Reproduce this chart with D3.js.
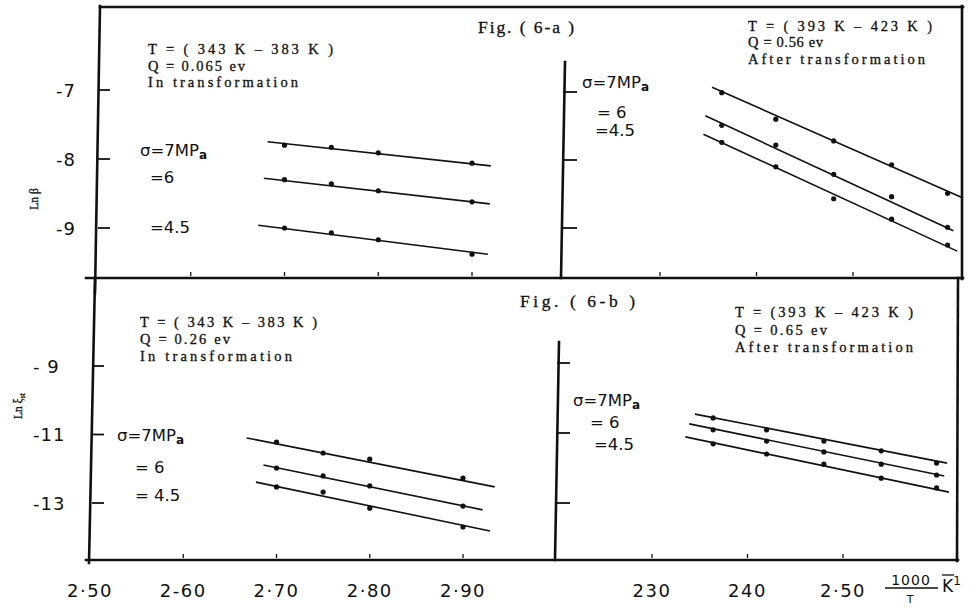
<!DOCTYPE html>
<html>
<head>
<meta charset="utf-8">
<script src="https://cdn.jsdelivr.net/npm/d3@7"></script>
<style>
  html, body { margin: 0; padding: 0; background: #fff; }
  svg { display: block; }
  .serif { font-family: "Liberation Serif", "DejaVu Serif", serif; fill: #111; stroke: #111; stroke-width: 0.3; }
  .sans { font-family: "DejaVu Sans", "Liberation Sans", sans-serif; fill: #111; }
</style>
</head>
<body>
<svg id="chart" width="972" height="613"></svg>
<script>
// ---------------- DATA ----------------
const sigmaLabels = ["7", "6", "4.5"];

// x positions (1000/T, K^-1) of the measured points
const xIn = [2.70, 2.75, 2.80, 2.90];                 // 343 K - 383 K (in transformation)
const xAfter = [2.364, 2.420, 2.480, 2.540, 2.598];   // 393 K - 423 K (after transformation)

// Fig. 6-a : ln beta
const lnBetaIn = [
  [-7.80, -7.83, -7.91, -8.06],
  [-8.30, -8.36, -8.46, -8.62],
  [-9.00, -9.07, -9.17, -9.38]
];
const lnBetaAfter = [
  [-7.01, -7.40, -7.72, -8.07, -8.49],
  [-7.49, -7.78, -8.21, -8.54, -8.99],
  [-7.74, -8.10, -8.57, -8.87, -9.25]
];
// fitted straight lines: [x start, x end] and [y start, y end]
const fitBetaInX = [[2.682, 2.920], [2.678, 2.919], [2.672, 2.917]];
const fitBetaInY = [[-7.75, -8.10], [-8.28, -8.65], [-8.96, -9.38]];
const fitBetaAfterX = [[2.354, 2.614], [2.347, 2.604], [2.345, 2.608]];
const fitBetaAfterY = [[-6.93, -8.56], [-7.35, -9.04], [-7.62, -9.34]];

// Fig. 6-b : ln xi_st
const lnXiIn = [
  [-11.22, -11.54, -11.72, -12.27],
  [-11.98, -12.21, -12.50, -13.09],
  [-12.53, -12.68, -13.15, -13.70]
];
const lnXiAfter = [
  [-10.57, -10.91, -11.23, -11.51, -11.86],
  [-10.91, -11.23, -11.54, -11.89, -12.20],
  [-11.31, -11.60, -11.89, -12.29, -12.57]
];
const fitXiInX = [[2.668, 2.934], [2.686, 2.921], [2.678, 2.929]];
const fitXiInY = [[-11.10, -12.53], [-11.89, -13.20], [-12.39, -13.82]];
const fitXiAfterX = [[2.345, 2.609], [2.339, 2.606], [2.335, 2.611]];
const fitXiAfterY = [[-10.46, -11.86], [-10.74, -12.23], [-11.11, -12.69]];

// tick values and labels
const xTicksIn = [2.50, 2.60, 2.70, 2.80, 2.90];
const xTickLabelsIn = ["2·50", "2-60", "2·70", "2·80", "2·90"];
const xTicksAfter = [2.30, 2.40, 2.50];
const xTickLabelsAfter = ["230", "240", "2·50"];
const yTicksBeta = [-7, -8, -9];
const yTickLabelsBeta = ["-7", "-8", "-9"];
const yTicksXi = [-9, -11, -13];
const yTickLabelsXi = ["- 9", "-11", "-13"];

const noteBetaIn = ["T  = ( 343 K – 383 K )", "Q  =  0.065 ev", "In transformation"];
const noteBetaAfter = ["T = ( 393 K – 423 K )", "Q  = 0.56 ev", "After transformation"];
const noteXiIn = ["T = ( 343 K – 383 K )", "Q = 0.26 ev", "In transformation"];
const noteXiAfter = ["T = (393 K – 423 K )", "Q = 0.65 ev", "After transformation"];

// ---------------- DRAWING ----------------
const svg = d3.select("#chart");
svg.append("rect").attr("width", 972).attr("height", 613).attr("fill", "#fff");
const ink = "#111";

// scales for the four panels
const xTL = d3.scaleLinear().domain([2.50, 2.90]).range([97, 472]);
const yTL = d3.scaleLinear().domain([-7, -9]).range([90, 228]);
const xTR = d3.scaleLinear().domain([2.30, 2.50]).range([660, 853]);
const yTR = d3.scaleLinear().domain([-7, -9]).range([92, 228]);
const xBL = d3.scaleLinear().domain([2.50, 2.90]).range([90, 463]);
const yBL = d3.scaleLinear().domain([-9, -13]).range([366, 503]);
const xBR = d3.scaleLinear().domain([2.30, 2.50]).range([652, 843]);
const yBR = d3.scaleLinear().domain([-9, -13]).range([363, 503]);

// frame lines
const frame = [
  [100, 7, 963, 7],
  [962, 6, 962, 279],
  [958, 278, 957, 561],
  [86, 278, 963, 278],
  [86, 560, 958, 560],
  [100, 6, 95, 293],
  [95, 278, 89, 563],
  [565, 62, 561, 278],
  [559, 342, 555, 560]
];
svg.append("g").selectAll("line").data(frame).join("line")
  .attr("x1", d => d[0]).attr("y1", d => d[1])
  .attr("x2", d => d[2]).attr("y2", d => d[3])
  .attr("stroke", ink).attr("stroke-width", 2.6).attr("stroke-linecap", "square");

function panel(o) {
  const g = svg.append("g");
  // y ticks (inner marks)
  g.selectAll(".yt").data(o.yTicks).join("line")
    .attr("x1", o.axisX).attr("x2", o.axisX + o.tickLen)
    .attr("y1", d => o.y(d)).attr("y2", d => o.y(d))
    .attr("stroke", ink).attr("stroke-width", 1.8);
  // x ticks (small marks above bottom axis)
  g.selectAll(".xt").data(o.xTicks.filter(v => o.x(v) > o.axisX + 20)).join("line")
    .attr("x1", d => o.x(d)).attr("x2", d => o.x(d))
    .attr("y1", o.bottom - 6).attr("y2", o.bottom - 2)
    .attr("stroke", ink).attr("stroke-width", 1.3);
  // y tick labels
  if (o.yLabels) {
    g.selectAll(".yl").data(o.yTicks).join("text")
      .attr("class", "sans")
      .attr("x", o.yLabelX).attr("y", d => o.y(d) + 6.5)
      .attr("font-size", 18)
      .attr("letter-spacing", 1)
      .text((d, i) => o.yLabels[i]);
  }
  // x tick labels
  if (o.xLabels) {
    g.selectAll(".xl").data(o.xTicks).join("text")
      .attr("class", "sans")
      .attr("x", d => o.x(d)).attr("y", 597)
      .attr("text-anchor", "middle")
      .attr("font-size", 18)
      .attr("letter-spacing", 1.5)
      .text((d, i) => o.xLabels[i]);
  }
  // fitted lines
  const line = d3.line().x(d => o.x(d[0])).y(d => o.y(d[1]));
  g.selectAll(".fit").data(o.fitX.map((fx, i) => [[fx[0], o.fitY[i][0]], [fx[1], o.fitY[i][1]]]))
    .join("path")
    .attr("d", line)
    .attr("fill", "none").attr("stroke", ink).attr("stroke-width", 1.6);
  // points
  o.vals.forEach(series => {
    g.selectAll(null).data(series.map((v, j) => [o.xs[j], v])).join("circle")
      .attr("cx", d => o.x(d[0])).attr("cy", d => o.y(d[1]))
      .attr("r", 2.6).attr("fill", ink);
  });
  // annotation
  g.selectAll(".note").data(o.note).join("text")
    .attr("class", "serif")
    .attr("x", o.noteX).attr("y", (d, i) => o.noteY[i])
    .attr("font-size", 14.5)
    .attr("textLength", (d, i) => o.noteW[i])
    .attr("lengthAdjust", "spacing")
    .text(d => d);
  // sigma labels
  o.sig.forEach((s, i) => {
    const t = g.append("text").attr("class", "sans")
      .attr("x", s[0]).attr("y", s[1]).attr("font-size", 16.5);
    if (i === 0) {
      t.append("tspan").text("σ=" + sigmaLabels[0] + "MP");
      t.append("tspan").attr("dx", 0).attr("dy", 3).attr("font-size", 12).attr("font-weight", "bold").text("a");
    } else {
      t.text(s[2] + sigmaLabels[i]);
    }
  });
}

panel({
  x: xTL, y: yTL, axisX: 98, tickLen: 12, bottom: 278,
  xTicks: xTicksIn, yTicks: yTicksBeta, yLabels: yTickLabelsBeta, yLabelX: 56,
  xs: xIn, vals: lnBetaIn, fitX: fitBetaInX, fitY: fitBetaInY,
  note: noteBetaIn, noteX: 148, noteY: [54, 71, 87], noteW: [185, 97, 150],
  sig: [[140, 156, ""], [150, 183, "="], [150, 233, "="]]
});
panel({
  x: xTR, y: yTR, axisX: 563, tickLen: 14, bottom: 278,
  xTicks: xTicksAfter, yTicks: yTicksBeta,
  xs: xAfter, vals: lnBetaAfter, fitX: fitBetaAfterX, fitY: fitBetaAfterY,
  note: noteBetaAfter, noteX: 748, noteY: [31, 47, 64], noteW: [184, 75, 177],
  sig: [[582, 88, ""], [597, 118, "= "], [595, 136, "="]]
});
panel({
  x: xBL, y: yBL, axisX: 92, tickLen: 12, bottom: 560,
  xTicks: xTicksIn, yTicks: yTicksXi, yLabels: yTickLabelsXi, yLabelX: 33,
  xLabels: xTickLabelsIn,
  xs: xIn, vals: lnXiIn, fitX: fitXiInX, fitY: fitXiInY,
  note: noteXiIn, noteX: 140, noteY: [327, 344, 361], noteW: [177, 90, 152],
  sig: [[117, 441, ""], [135, 473, "= "], [135, 501, "= "]]
});
panel({
  x: xBR, y: yBR, axisX: 557, tickLen: 13, bottom: 560,
  xTicks: xTicksAfter, yTicks: yTicksXi,
  xLabels: xTickLabelsAfter,
  xs: xAfter, vals: lnXiAfter, fitX: fitXiAfterX, fitY: fitXiAfterY,
  note: noteXiAfter, noteX: 735, noteY: [317, 335, 352], noteW: [178, 92, 178],
  sig: [[573, 406, ""], [590, 428, "= "], [594, 450, "="]]
});

// figure titles
svg.append("text").attr("class", "serif").attr("x", 478).attr("y", 33)
  .attr("font-size", 17.5).attr("textLength", 96).attr("lengthAdjust", "spacing")
  .text("Fig. ( 6-a )");
svg.append("text").attr("class", "serif").attr("x", 520).attr("y", 307)
  .attr("font-size", 17.5).attr("textLength", 115).attr("lengthAdjust", "spacing")
  .text("Fig. ( 6-b )");

// y-axis titles
svg.append("text").attr("class", "serif")
  .attr("transform", "translate(38,199) rotate(-90)")
  .attr("text-anchor", "middle").attr("font-size", 11.5)
  .text("Ln β");
const xiTitle = svg.append("text").attr("class", "serif")
  .attr("transform", "translate(22,406) rotate(-90)")
  .attr("text-anchor", "middle").attr("font-size", 11.5);
xiTitle.append("tspan").text("Ln ξ");
xiTitle.append("tspan").attr("dy", 3).attr("font-size", 8).text("st");

// x-axis unit: 1000/T  K^-1
const unit = svg.append("g");
unit.append("text").attr("class", "sans").attr("x", 911).attr("y", 585)
  .attr("text-anchor", "middle").attr("font-size", 14).attr("letter-spacing", 1).text("1000");
unit.append("line").attr("x1", 885).attr("x2", 938).attr("y1", 588).attr("y2", 588)
  .attr("stroke", ink).attr("stroke-width", 1.4);
unit.append("text").attr("class", "sans").attr("x", 910).attr("y", 603)
  .attr("text-anchor", "middle").attr("font-size", 11).text("T");
const kt = unit.append("text").attr("class", "sans").attr("x", 942).attr("y", 592).attr("font-size", 17);
kt.append("tspan").text("K");
kt.append("tspan").attr("dy", -7).attr("font-size", 12).text("1");
unit.append("line").attr("x1", 942).attr("x2", 954).attr("y1", 575).attr("y2", 575)
  .attr("stroke", ink).attr("stroke-width", 1.3);
</script>
</body>
</html>
